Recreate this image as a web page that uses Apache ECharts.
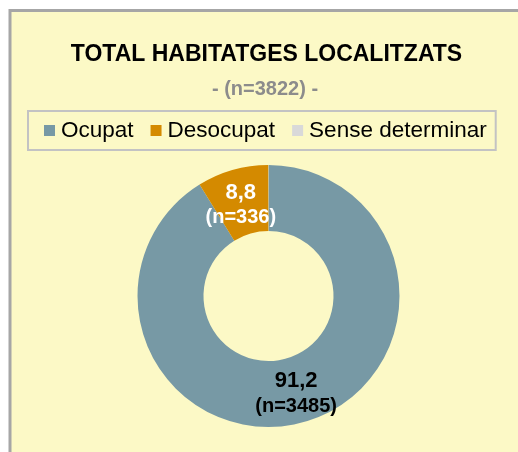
<!DOCTYPE html>
<html>
<head>
<meta charset="utf-8">
<script src="https://cdn.jsdelivr.net/npm/echarts@6/dist/echarts.min.js"></script>
<style>
html,body{margin:0;padding:0;background:#ffffff;}
#chart{width:518px;height:452px;}
</style>
</head>
<body>
<div id="chart"></div>
<script>
const categories = ['Ocupat', 'Desocupat', 'Sense determinar'];
const percents = [91.2, 8.8, 0.0];
const counts = [3485, 336, 1];
const total = 3822;
const colors = ['#7799A5', '#D48A00', '#D9D9D9'];
const labelColors = ['#000000', '#ffffff', '#000000'];
const labelOffsets = [[0, 0], [0, 6], [0, 0]];

const FONT = '"Liberation Sans", Arial, sans-serif';
const chart = echarts.init(document.getElementById('chart'), null, {renderer: 'canvas'});

const data = categories.map((c, i) => ({
  name: c,
  value: counts[i],
  itemStyle: {color: colors[i]},
  label: {
    show: i < 2,
    offset: labelOffsets[i],
    color: labelColors[i],
    formatter: () => '{v|' + percents[i].toFixed(1).replace('.', ',') + '}\n{n|(n=' + counts[i] + ')}',
    rich: {
      v: {fontSize: 22, fontWeight: 'bold', fontFamily: FONT, color: labelColors[i], lineHeight: 26},
      n: {fontSize: 20, fontWeight: 'bold', fontFamily: FONT, color: labelColors[i], lineHeight: 24}
    }
  }
}));

chart.setOption({
  animation: false,
  backgroundColor: '#ffffff',
  graphic: [
    {type: 'rect', z: -10, shape: {x: 10, y: 10.5, width: 520, height: 450},
     style: {fill: '#FCF9C6', stroke: '#A6A6A6', lineWidth: 3}},
    {type: 'text', z: 10, style: {text: 'TOTAL HABITATGES LOCALITZATS', x: 266.5, y: 55,
      textAlign: 'center', textVerticalAlign: 'middle', fill: '#000000',
      font: 'bold 23px ' + FONT}},
    {type: 'text', z: 10, style: {text: '- (n=' + total + ') -', x: 265, y: 89,
      textAlign: 'center', textVerticalAlign: 'middle', fill: '#8C8C8C',
      font: 'bold 20px ' + FONT}}
  ],
  legend: {
    left: 28, top: 111,
    orient: 'horizontal',
    data: categories,
    icon: 'rect',
    itemWidth: 11, itemHeight: 11,
    itemGap: 17,
    padding: [8, 9, 8, 16],
    borderColor: '#C3C3C3', borderWidth: 2,
    textStyle: {fontSize: 22.5, fontFamily: FONT, color: '#000000', padding: [0, 0, 0, 1]},
    selectedMode: false
  },
  series: [{
    type: 'pie',
    center: [268.5, 296],
    radius: [65, 131],
    startAngle: 90,
    clockwise: true,
    avoidLabelOverlap: false,
    label: {position: 'inside'},
    labelLine: {show: false},
    emphasis: {disabled: true},
    data: data
  }]
});
</script>
</body>
</html>
